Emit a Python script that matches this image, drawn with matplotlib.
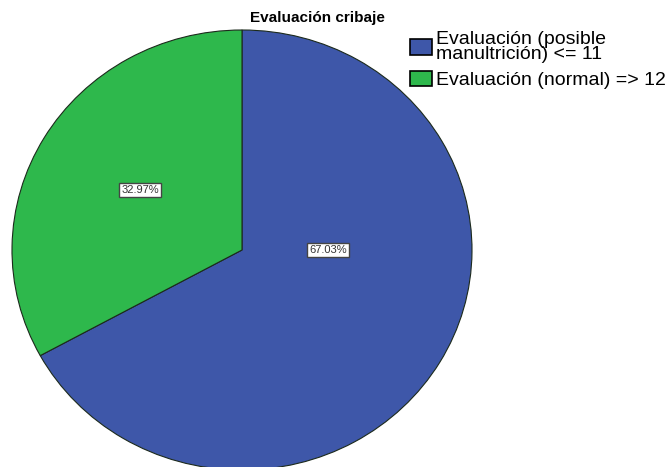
import matplotlib.pyplot as plt

# datos del gráfico
categorias = ["Evaluación (posible\nmanultrición) <= 11", "Evaluación (normal) => 12"]
porcentajes = [67.03, 32.97]
colores = ["#3e57a9", "#2eb84c"]
titulo = "Evaluación cribaje"

plt.rcParams['font.family'] = ['Liberation Sans', 'DejaVu Sans']

fig = plt.figure(figsize=(6.65, 4.67), dpi=100)
ax = fig.add_axes([12 / 665, -3 / 467, 460 / 665, 440 / 467])

wedges, textos, autotextos = ax.pie(
    porcentajes, colors=colores, startangle=90, counterclock=False,
    autopct='%.2f%%', pctdistance=0.5,
    wedgeprops=dict(edgecolor='#1c2a1c', linewidth=0.8))
ax.set_aspect('auto')
ax.set_xlim(-1.0, 1.0)
ax.set_ylim(-1.0, 1.0)
ax.axis('off')

# posiciones de las etiquetas de porcentaje
pos_etiquetas = [(0.374, 0.0), (-0.443, 0.273)]
for t, p in zip(autotextos, pos_etiquetas):
    t.set_position(p)
    t.set_fontsize(8)
    t.set_color('#333333')
    t.set_bbox(dict(boxstyle='square,pad=0.2', facecolor='white',
                    edgecolor='#444444', linewidth=1.0))

fig.text(317 / 665, 1 - 18 / 467, titulo, ha='center', va='center',
         fontsize=11, fontweight='bold')

leg = fig.legend(wedges, categorias, loc='upper left',
                 bbox_to_anchor=(410 / 665, 1 - 31 / 467), frameon=False,
                 fontsize=14, handlelength=1.15, handleheight=0.85,
                 handletextpad=0.2, labelspacing=0.4, borderaxespad=0,
                 borderpad=0)
for txt in leg.get_texts():
    txt.set_linespacing(0.85)
for h in leg.legend_handles:
    h.set_edgecolor('black')
    h.set_linewidth(1.2)

fig.savefig('out.png', dpi=100)
